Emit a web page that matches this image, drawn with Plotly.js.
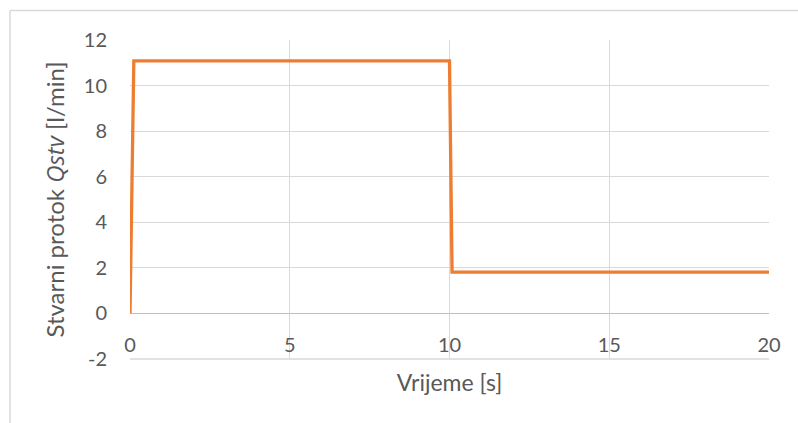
<!DOCTYPE html>
<html>
<head>
<meta charset="utf-8">
<script src="https://cdn.plot.ly/plotly-3.0.1.min.js"></script>
<style>html,body{margin:0;padding:0;background:#fff;}#chart{width:798px;height:423px;}</style>
</head>
<body>
<div id="chart"></div>
<script>
// Data
const timeS = [0, 0.12, 10.0, 10.08, 20];
const flowLmin = [0, 11.08, 11.08, 1.81, 1.81];
const xTickVals = [0, 5, 10, 15, 20];
const yTickVals = [-2, 0, 2, 4, 6, 8, 10, 12];

const FONT = 'Lato, "Open Sans", sans-serif';
const GREY = '#595959';

const trace = {
  x: timeS, y: flowLmin, type: 'scatter', mode: 'lines',
  line: {color: '#ed7d31', width: 3.3},
  hoverinfo: 'skip'
};

const layout = {
  width: 798, height: 423,
  margin: {l: 130, r: 29, t: 40, b: 64},
  paper_bgcolor: '#ffffff', plot_bgcolor: '#ffffff',
  showlegend: false,
  font: {family: FONT, color: GREY, size: 20},
  xaxis: {
    range: [0, 20], tickvals: xTickVals, ticktext: xTickVals.map(String),
    anchor: 'free', position: 2/14,
    showgrid: true, gridcolor: '#d9d9d9', gridwidth: 1,
    zeroline: false, showline: false,
    ticks: 'outside', ticklen: 14, tickcolor: 'rgba(0,0,0,0)',
    tickfont: {family: FONT, size: 20, color: GREY},
    title: {text: 'Vrijeme [s]', font: {family: FONT, size: 23, color: GREY}, standoff: 19},
    fixedrange: true
  },
  yaxis: {
    range: [-2, 12], tickvals: yTickVals, ticktext: yTickVals.map(String),
    showgrid: true, gridcolor: '#d9d9d9', gridwidth: 1,
    zeroline: true, zerolinecolor: '#bfbfbf', zerolinewidth: 1.5,
    showline: false,
    ticks: 'outside', ticklen: 18, tickcolor: 'rgba(0,0,0,0)',
    tickfont: {family: FONT, size: 20, color: GREY},
    title: {text: 'Stvarni protok <span style="font-family:\'Open Sans\'"><i>Qstv</i></span> [l/min]', font: {family: FONT, size: 24, color: GREY}, standoff: 12},
    fixedrange: true
  },
  shapes: [
    {type: 'line', xref: 'paper', yref: 'paper', x0: 0, x1: 1, y0: 0, y1: 0,
     line: {color: '#d9d9d9', width: 1.5}},
    {type: 'line', xref: 'paper', yref: 'paper', x0: (10 - 130) / 639, x1: (800 - 130) / 639,
     y0: (359.3 - 10.5) / 319.3, y1: (359.3 - 10.5) / 319.3, line: {color: '#d9d9d9', width: 1.5}},
    {type: 'line', xref: 'paper', yref: 'paper', x0: (10 - 130) / 639, x1: (10 - 130) / 639,
     y0: (359.3 - 10.5) / 319.3, y1: (359.3 - 430) / 319.3, line: {color: '#d9d9d9', width: 1.5}}
  ]
};

Plotly.newPlot('chart', [trace], layout, {displayModeBar: false, staticPlot: true});
</script>
</body>
</html>
